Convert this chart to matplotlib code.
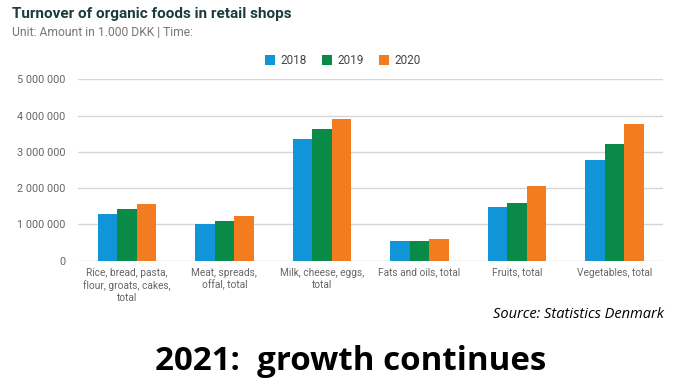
import matplotlib
matplotlib.use("Agg")
import matplotlib.pyplot as plt
import numpy as np

categories = ["Rice, bread, pasta,\nflour, groats, cakes,\ntotal",
              "Meat, spreads,\noffal, total",
              "Milk, cheese, eggs,\ntotal",
              "Fats and oils, total",
              "Fruits, total",
              "Vegetables, total"]
years = ["2018", "2019", "2020"]
v2018 = [1280000, 1020000, 3360000, 535000, 1490000, 2780000]
v2019 = [1430000, 1100000, 3620000, 535000, 1600000, 3230000]
v2020 = [1560000, 1220000, 3900000, 600000, 2070000, 3770000]
yticks = [0, 1000000, 2000000, 3000000, 4000000, 5000000]
ytick_labels = ["0", "1 000 000", "2 000 000", "3 000 000", "4 000 000", "5 000 000"]
colors = ["#0f95d8", "#0a8a47", "#f47c20"]

W, H = 682, 390
fig = plt.figure(figsize=(W / 100, H / 100), dpi=100)
plt.rcParams['font.family'] = ['Roboto', 'DejaVu Sans']

ax = fig.add_axes([78 / W, 1 - 260.7 / H, (663 - 78) / W, (260.7 - 79.4) / H])
x = np.arange(len(categories))
bw = 0.2
for i, (vals, yr, c) in enumerate(zip([v2018, v2019, v2020], years, colors)):
    ax.bar(x + (i - 1) * bw, vals, width=bw, color=c, label=yr, zorder=3)

ax.set_xlim(-0.5, len(categories) - 0.5)
ax.set_ylim(0, 5000000)
ax.set_yticks(yticks)
ax.set_yticklabels(ytick_labels)
ax.set_xticks(x)
ax.set_xticklabels(categories, fontsize=7.3, color="#666666", linespacing=1.25)
ax.tick_params(axis='y', labelsize=7.8, colors="#666666", length=0, pad=9)
ax.tick_params(axis='x', length=0, pad=5)
for s in ax.spines.values():
    s.set_visible(False)
ax.grid(axis='y', color="#d6d6d6", linewidth=1, zorder=0)

leg = fig.legend(loc='center', bbox_to_anchor=(343 / W, 1 - 60.7 / H), ncol=3, frameon=False,
                 fontsize=8.5, handlelength=0.85, handleheight=0.85, columnspacing=1.3,
                 handletextpad=0.45)
for t in leg.get_texts():
    t.set_color("#444444")

fig.text(12 / W, 1 - 14 / H, "Turnover of organic foods in retail shops", fontsize=11,
         fontweight='bold', color="#1d3b3b", va='center', ha='left')
fig.text(12 / W, 1 - 33 / H, "Unit: Amount in 1.000 DKK | Time:", fontsize=8.7,
         color="#777777", va='center', ha='left')
fig.text(664 / W, 1 - 314 / H, "Source: Statistics Denmark", fontsize=10.5, style='italic',
         color="#000000", va='center', ha='right', family=['Open Sans', 'DejaVu Sans'])
fig.text(351 / W, 1 - 361 / H, "2021:  growth continues", fontsize=23.8, fontweight='bold',
         color="#000000", va='center', ha='center', family=['Open Sans', 'DejaVu Sans'])

fig.savefig("out.png", dpi=100)
